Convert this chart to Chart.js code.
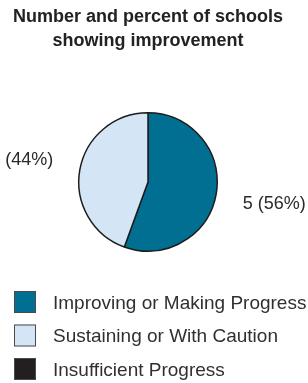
<!DOCTYPE html>
<html>
<head>
<meta charset="utf-8">
<script src="https://cdn.jsdelivr.net/npm/chart.js@4/dist/chart.umd.min.js"></script>
<style>
  html, body { margin: 0; padding: 0; background: #ffffff; }
  #wrap { width: 308px; height: 383px; }
</style>
</head>
<body>
<div id="wrap"><canvas id="c" width="308" height="383"></canvas></div>
<script>
const titleLines = ["Number and percent of schools", "showing improvement"];
const categories = ["Improving or Making Progress", "Sustaining or With Caution", "Insufficient Progress"];
const schoolCounts = [5, 4, 0];
const sliceColors = ["#006f92", "#d4e6f6", "#231f20"];

const FONT = "'Liberation Sans', Arial, Helvetica, sans-serif";
const total = schoolCounts.reduce((a, b) => a + b, 0);

const sliceLabels = {
  id: 'sliceLabels',
  afterDatasetsDraw(chart) {
    const ctx = chart.ctx;
    const meta = chart.getDatasetMeta(0);
    ctx.save();
    ctx.font = "18px " + FONT;
    ctx.fillStyle = "#2a2a2a";
    ctx.textAlign = "center";
    ctx.textBaseline = "middle";
    meta.data.forEach((arc, i) => {
      const v = schoolCounts[i];
      if (!v) return;
      const p = arc.getProps(['x', 'y', 'startAngle', 'endAngle', 'outerRadius'], true);
      const mid = (p.startAngle + p.endAngle) / 2;
      const d = p.outerRadius + 59;
      const pct = Math.round(v / total * 100);
      ctx.fillText(v + " (" + pct + "%)", p.x + Math.cos(mid) * d, p.y + Math.sin(mid) * d);
    });
    ctx.restore();
  }
};

const boxLegend = {
  id: 'boxLegend',
  afterDraw(chart) {
    const ctx = chart.ctx;
    const ds = chart.data.datasets[0];
    ctx.save();
    ctx.font = "19px " + FONT;
    ctx.textBaseline = "middle";
    ctx.textAlign = "left";
    chart.data.labels.forEach((lab, i) => {
      const top = 291 + i * 33.5;
      ctx.fillStyle = ds.backgroundColor[i];
      ctx.fillRect(14, top, 22, 22);
      ctx.strokeStyle = "#4a4a4a";
      ctx.lineWidth = 1;
      ctx.strokeRect(14.5, top + 0.5, 21, 21);
      ctx.fillStyle = "#303030";
      ctx.fillText(lab, 53, top + 12.5);
    });
    ctx.restore();
  }
};

new Chart(document.getElementById('c'), {
  type: 'pie',
  data: {
    labels: categories,
    datasets: [{
      data: schoolCounts,
      backgroundColor: sliceColors,
      borderColor: "#1c1c1c",
      borderWidth: 1.5,
      hoverOffset: 0
    }]
  },
  options: {
    responsive: false,
    animation: false,
    events: [],
    layout: { padding: { left: 0, right: 12, top: 0, bottom: 131 } },
    plugins: {
      legend: { display: false },
      tooltip: { enabled: false },
      title: {
        display: true,
        text: titleLines,
        color: "#222222",
        font: { family: FONT, size: 18, weight: 'bold', lineHeight: 24 / 18 },
        padding: { top: 5, bottom: 59 }
      }
    }
  },
  plugins: [sliceLabels, boxLegend]
});
</script>
</body>
</html>
